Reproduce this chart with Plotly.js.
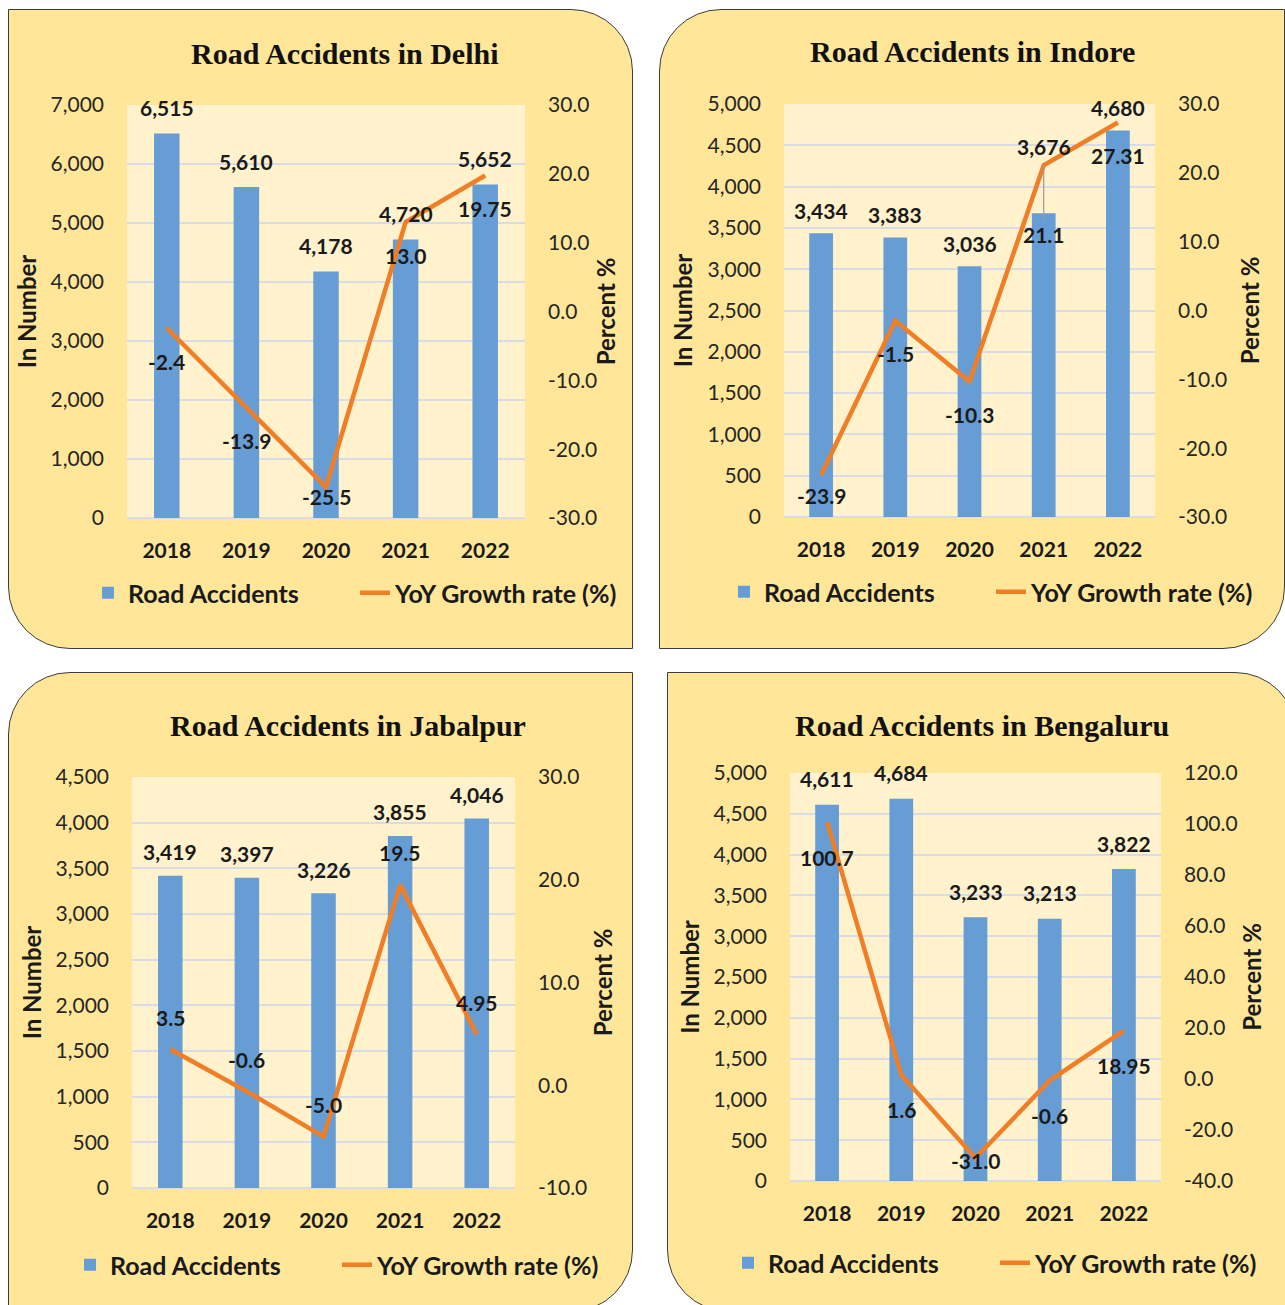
<!DOCTYPE html>
<html>
<head>
<meta charset="utf-8">
<script src="https://cdn.plot.ly/plotly-3.0.1.min.js"></script>
<style>
  html, body { margin: 0; padding: 0; background: #ffffff; }
  #wrap { position: relative; width: 1285px; height: 1305px; overflow: hidden; }
  .box { position: absolute; background: #FFE699; border: 1px solid #3c3c3c; box-sizing: border-box; }
  #chart { position: absolute; left: 0; top: 0; width: 1285px; height: 1305px; }
</style>
</head>
<body>
<div id="wrap">
  <div class="box" style="left:8px;top:9px;width:625px;height:640px;border-top-right-radius:62px;border-bottom-left-radius:62px;"></div>
  <div class="box" style="left:659px;top:9px;width:626px;height:640px;border-top-left-radius:62px;border-bottom-right-radius:62px;"></div>
  <div class="box" style="left:8px;top:672px;width:625px;height:640px;border-top-left-radius:62px;border-bottom-right-radius:62px;"></div>
  <div class="box" style="left:667px;top:672px;width:630px;height:640px;border-top-right-radius:62px;border-bottom-left-radius:62px;"></div>
  <div id="chart"></div>
</div>
<script>
// ---------------- DATA ----------------
const years = ['2018', '2019', '2020', '2021', '2022'];

const delhiAccidents = [6515, 5610, 4178, 4720, 5652];
const delhiGrowth = [-2.4, -13.9, -25.5, 13.0, 19.75];

const indoreAccidents = [3434, 3383, 3036, 3676, 4680];
const indoreGrowth = [-23.9, -1.5, -10.3, 21.1, 27.31];

const jabalpurAccidents = [3419, 3397, 3226, 3855, 4046];
const jabalpurGrowth = [3.5, -0.6, -5.0, 19.5, 4.95];

const bengaluruAccidents = [4611, 4684, 3233, 3213, 3822];
const bengaluruGrowth = [100.7, 1.6, -31.0, -0.6, 18.95];

const cityNames = ['Delhi', 'Indore', 'Jabalpur', 'Bengaluru'];
const barName = 'Road Accidents';
const lineName = 'YoY Growth rate (%)';
const leftTitle = 'In Number';
const rightTitle = 'Percent %';

// ---------------- STYLE / LAYOUT ----------------
const W = 1285, H = 1305;
const fx = p => p / W;
const fy = p => 1 - p / H;

const BLUE = '#669DD4';
const ORANGE = '#F07E26';
const PLOTBG = '#FFF2CC';
const GRID = '#D9DBE6';
const SANS = 'Lato, "Open Sans", sans-serif';
const SERIF = '"Liberation Serif", "Times New Roman", serif';

const panels = [
  { acc: delhiAccidents, gr: delhiGrowth, left: 127, right: 525, top: 105, bottom: 518,
    lRange: [0, 7000], lD: 1000, rRange: [-30, 30], rD: 10,
    barShift: 26, lineOff: 33, lineBelow: true, titleX: 345, titleY: 53, legX: 88, legY: 593,
    lStand: 7, rStand: 1, overrides: {} },
  { acc: indoreAccidents, gr: indoreGrowth, left: 784, right: 1155, top: 104, bottom: 517,
    lRange: [0, 5000], lD: 500, rRange: [-30, 30], rD: 10,
    barShift: 23, lineOff: 33, lineBelow: true, titleX: 972, titleY: 52, legX: 724, legY: 592,
    lStand: 8, rStand: 15, overrides: { 3: { bar: 67, lineArrow: 69 } } },
  { acc: jabalpurAccidents, gr: jabalpurGrowth, left: 132, right: 515, top: 777, bottom: 1188,
    lRange: [0, 4500], lD: 500, rRange: [-10, 30], rD: 10,
    barShift: 24, lineOff: 32, lineBelow: false, titleX: 348, titleY: 725, legX: 70, legY: 1265,
    lStand: 7, rStand: 8, overrides: {} },
  { acc: bengaluruAccidents, gr: bengaluruGrowth, left: 790, right: 1161, top: 773, bottom: 1181,
    lRange: [0, 5000], lD: 500, rRange: [-40, 120], rD: 20,
    barShift: 26, lineOff: 35, lineBelow: true, titleX: 982, titleY: 725, legX: 728, legY: 1263,
    lStand: 7, rStand: 7, overrides: {} }
];

function fmtGrowth(v) {
  const t = v * 10;
  return Math.abs(t - Math.round(t)) < 1e-6 ? v.toFixed(1) : v.toFixed(2);
}
function rangeTicks(r, d) {
  const vals = [];
  for (let v = r[0]; v <= r[1] + 1e-9; v += d) vals.push(Math.round(v * 1000) / 1000);
  return vals;
}

const traces = [];
const annotations = [];
const layout = {
  width: W, height: H,
  margin: { l: 0, r: 0, t: 0, b: 0 },
  paper_bgcolor: 'rgba(0,0,0,0)',
  plot_bgcolor: PLOTBG,
  showlegend: true,
  bargap: 0.68,
  font: { family: SANS, color: '#1a1a1a' },
  annotations: annotations
};

const labelFont = { family: SANS, size: 21, color: '#1a1a1a', weight: 'bold' };

panels.forEach((p, i) => {
  const n = i + 1;
  const xName = n === 1 ? 'x' : 'x' + n;
  const yL = 2 * i + 1, yR = 2 * i + 2;
  const yLName = yL === 1 ? 'y' : 'y' + yL;
  const yRName = 'y' + yR;
  const legName = n === 1 ? 'legend' : 'legend' + n;

  traces.push({
    type: 'bar', x: years, y: p.acc, name: barName,
    xaxis: xName, yaxis: yLName, legend: legName,
    marker: { color: BLUE }, hoverinfo: 'x+y'
  });
  traces.push({
    type: 'scatter', mode: 'lines', x: years, y: p.gr, name: lineName,
    xaxis: xName, yaxis: yRName, legend: legName,
    line: { color: ORANGE, width: 4.5 }, hoverinfo: 'x+y'
  });

  const xKey = n === 1 ? 'xaxis' : 'xaxis' + n;
  const yLKey = yL === 1 ? 'yaxis' : 'yaxis' + yL;
  const yRKey = 'yaxis' + yR;

  const rVals = rangeTicks(p.rRange, p.rD);

  layout[xKey] = {
    domain: [fx(p.left), fx(p.right)], anchor: yLName, type: 'category',
    categoryorder: 'array', categoryarray: years,
    range: [-0.5, years.length - 0.5], autorange: false,
    showgrid: false, zeroline: false, showline: false, ticks: '',
    ticklabelstandoff: 18,
    tickfont: { family: SANS, size: 21, color: '#1a1a1a', weight: 'bold' },
    fixedrange: true
  };
  layout[yLKey] = {
    domain: [fy(p.bottom), fy(p.top)], anchor: xName,
    range: p.lRange, autorange: false, dtick: p.lD, tick0: 0, tickformat: ',d',
    showgrid: true, gridcolor: GRID, gridwidth: 2,
    zeroline: true, zerolinecolor: GRID, zerolinewidth: 2,
    showline: false, ticks: '', ticklabelstandoff: 22,
    tickfont: { family: SANS, size: 21, color: '#262626' },
    title: { text: leftTitle, standoff: p.lStand, font: { family: SANS, size: 24, color: '#1a1a1a', weight: 'bold' } },
    fixedrange: true
  };
  layout[yRKey] = {
    domain: [fy(p.bottom), fy(p.top)], anchor: xName, overlaying: yLName, side: 'right',
    range: p.rRange, autorange: false, tickmode: 'array', tickvals: rVals,
    ticktext: rVals.map(v => v.toFixed(1)),
    showgrid: false, zeroline: false, showline: false, ticks: '', ticklabelstandoff: 22,
    tickfont: { family: SANS, size: 21, color: '#262626' },
    title: { text: rightTitle, standoff: p.rStand, font: { family: SANS, size: 24, color: '#1a1a1a', weight: 'bold' } },
    fixedrange: true
  };

  layout[legName] = {
    orientation: 'h', x: fx(p.legX), y: fy(p.legY), xanchor: 'left', yanchor: 'middle',
    bgcolor: 'rgba(0,0,0,0)', borderwidth: 0,
    font: { family: SANS, size: 25, color: '#1a1a1a', weight: 'bold' },
    entrywidthmode: 'pixels', entrywidth: 222,
    itemclick: false, itemdoubleclick: false
  };

  // Panel title
  annotations.push({
    xref: 'paper', yref: 'paper', x: fx(p.titleX), y: fy(p.titleY),
    xanchor: 'center', yanchor: 'middle', showarrow: false,
    text: '<b>Road Accidents in ' + cityNames[i] + '</b>',
    font: { family: SERIF, size: 30, color: '#111111' }
  });

  // Data labels (x given as category index)
  const plotH = p.bottom - p.top;
  const [rmin, rmax] = p.rRange;
  years.forEach((yr, k) => {
    const ov = p.overrides[k] || {};
    annotations.push({
      xref: xName, yref: yLName, x: k, y: p.acc[k],
      showarrow: false, yshift: ov.bar !== undefined ? ov.bar : p.barShift,
      xanchor: 'center', yanchor: 'middle',
      text: p.acc[k].toLocaleString('en-US'), font: labelFont
    });
    const v = p.gr[k];
    const txt = fmtGrowth(v);
    if (ov.lineArrow !== undefined) {
      annotations.push({
        xref: xName, yref: yRName, x: k, y: v,
        showarrow: true, ax: 0, ay: ov.lineArrow, arrowhead: 0, arrowwidth: 1.2,
        arrowcolor: '#9a9a9a', standoff: 0,
        text: txt, font: labelFont
      });
      return;
    }
    const pointPx = p.bottom - (v - rmin) / (rmax - rmin) * plotH;
    let labelPx = p.lineBelow ? pointPx + p.lineOff : pointPx - p.lineOff;
    if (labelPx > p.bottom - 21) labelPx = p.bottom - 21;
    annotations.push({
      xref: xName, yref: yRName, x: k, y: v,
      showarrow: false, yshift: pointPx - labelPx,
      xanchor: 'center', yanchor: 'middle',
      text: txt, font: labelFont
    });
  });
});

Plotly.newPlot('chart', traces, layout, { staticPlot: true, displayModeBar: false });
</script>
</body>
</html>
